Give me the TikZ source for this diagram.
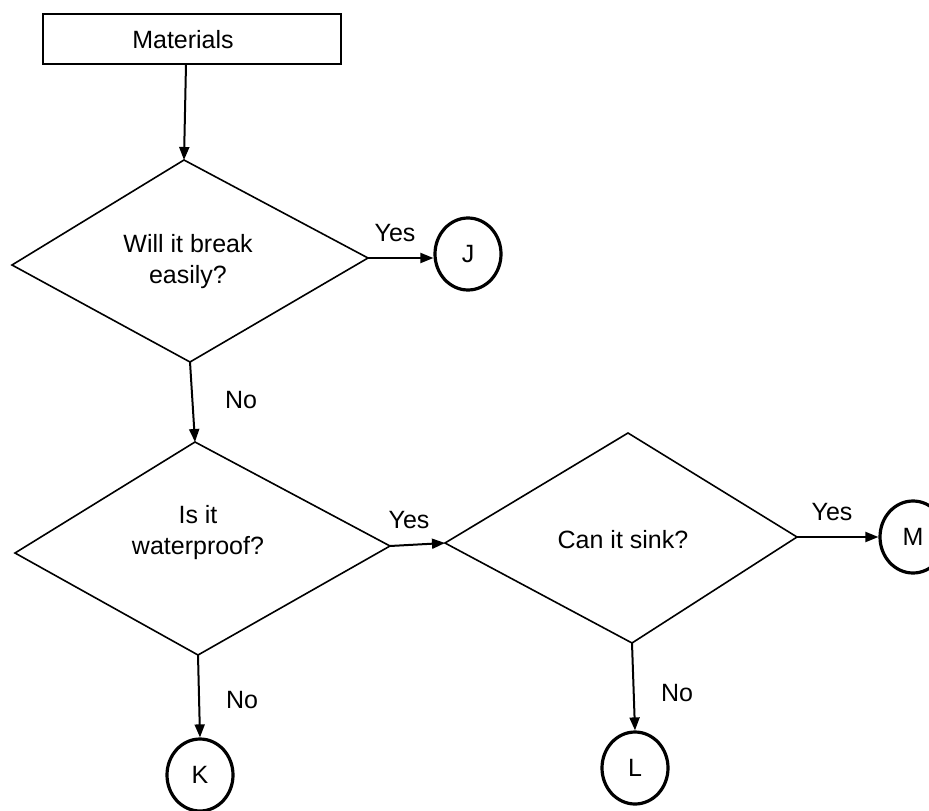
\documentclass[tikz,border=0pt]{standalone}
\usepackage{fontspec}
\setmainfont{Liberation Sans}
\usetikzlibrary{arrows.meta,shapes.geometric}
\begin{document}
\begin{tikzpicture}[x=1pt,y=-1pt,
  txt/.style={font=\fontsize{25}{31}\selectfont, align=center, inner sep=0pt},
  lbl/.style={font=\fontsize{25}{31}\selectfont, inner sep=0pt},
  boxstyle/.style={draw, line width=2pt},
  diam/.style={draw, line width=1.6pt, line join=miter},
  term/.style={draw, ellipse, line width=3.2pt, minimum width=66pt, minimum height=72pt, inner sep=0pt, font=\fontsize{25}{31}\selectfont},
  conn/.style={line width=2pt, -{Triangle[length=13pt,width=10pt]}}
]
\useasboundingbox (0,0) rectangle (929,811);
\fill[white] (0,0) rectangle (929,811);

% Materials box
\node[boxstyle, minimum width=298pt, minimum height=50pt, inner sep=0pt] (mat) at (192,39) {};
\node[txt] (mattxt) at (183,40) {Materials};

% Diamond 1
\coordinate (d1t) at (184,160);
\coordinate (d1l) at (12,265);
\coordinate (d1r) at (368,258);
\coordinate (d1b) at (190,362);
\draw[diam] (d1t) -- (d1r) -- (d1b) -- (d1l) -- cycle;
\node[txt] (q1) at (188,262) {Will it break\\easily?};

% Diamond 2
\coordinate (d2t) at (195,442);
\coordinate (d2l) at (15,553);
\coordinate (d2r) at (390,546);
\coordinate (d2b) at (198,655);
\draw[diam] (d2t) -- (d2r) -- (d2b) -- (d2l) -- cycle;
\node[txt] (q2) at (198,533) {Is it\\waterproof?};

% Diamond 3
\coordinate (d3t) at (628,433);
\coordinate (d3l) at (445,543);
\coordinate (d3r) at (797,537);
\coordinate (d3b) at (632,643);
\draw[diam] (d3t) -- (d3r) -- (d3b) -- (d3l) -- cycle;
\node[txt] (q3) at (623,540) {Can it sink?};

% Terminals
\node[term] (J) at (468,254) {J};
\node[term] (M) at (913,537) {M};
\node[term] (K) at (200,775) {K};
\node[term] (L) at (635,768) {L};

% Connectors
\coordinate (matb) at (186,64);
\draw[conn] (matb) -- (d1t);
\draw[conn] (d1r) -- (J.west |- d1r);
\draw[conn] (d1b) -- (d2t);
\draw[conn] (d2r) -- (d3l);
\draw[conn] (d3r) -- (M.west |- d3r);
\draw[conn] (d2b) -- (K.north);
\draw[conn] (d3b) -- (L.north);

% Labels
\node[lbl] (y1) at (395,233) {Yes};
\node[lbl] (n1) at (241,400) {No};
\node[lbl] (y2) at (409,520) {Yes};
\node[lbl] (n2) at (242,700) {No};
\node[lbl] (y3) at (832,512) {Yes};
\node[lbl] (n3) at (677,693) {No};
\end{tikzpicture}
\end{document}
